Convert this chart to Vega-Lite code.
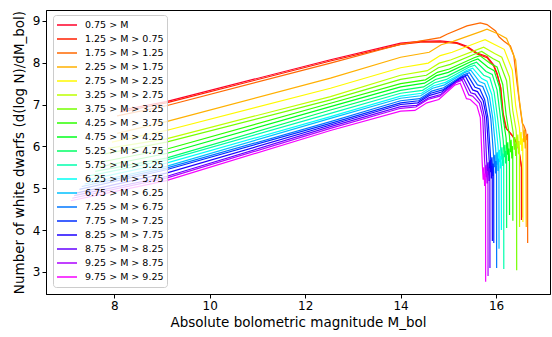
{
"$schema":"https://vega.github.io/schema/vega-lite/v6.json",
"width":504,"height":284,"autosize":"none",
"padding":{"left":46,"top":10,"right":2,"bottom":43},
"config":{"font":"DejaVu Sans","view":{"stroke":"#000","strokeWidth":1},
"axis":{"grid":false,"labelFontSize":12,"titleFontSize":13.5,"titleFontWeight":"normal","tickSize":4,"tickColor":"#000","domainColor":"#000","labelColor":"#000","titleColor":"#000","labelPadding":2}},
"data":{"values":[
{"s":"0.75 > M","x":8.16,"y":6.87},{"s":"0.75 > M","x":9.09,"y":7.07},{"s":"0.75 > M","x":12.53,"y":8.07},{"s":"0.75 > M","x":14.0,"y":8.47},{"s":"0.75 > M","x":14.42,"y":8.51},{"s":"0.75 > M","x":14.83,"y":8.52},{"s":"0.75 > M","x":15.18,"y":8.48},{"s":"0.75 > M","x":15.39,"y":8.39},{"s":"0.75 > M","x":15.6,"y":8.23},{"s":"0.75 > M","x":15.81,"y":8.15},{"s":"0.75 > M","x":15.95,"y":7.95},{"s":"0.75 > M","x":16.02,"y":7.75},{"s":"0.75 > M","x":16.09,"y":7.43},{"s":"0.75 > M","x":16.14,"y":6.8},{"s":"0.75 > M","x":16.2,"y":6.45},{"s":"0.75 > M","x":16.35,"y":6.25},{"s":"0.75 > M","x":16.45,"y":6.05},{"s":"0.75 > M","x":16.5,"y":5.75},{"s":"0.75 > M","x":16.53,"y":5.5},{"s":"0.75 > M","x":16.532,"y":4.24},
{"s":"1.25 > M > 0.75","x":8.12,"y":6.82},{"s":"1.25 > M > 0.75","x":9.09,"y":7.04},{"s":"1.25 > M > 0.75","x":12.53,"y":8.04},{"s":"1.25 > M > 0.75","x":14.0,"y":8.44},{"s":"1.25 > M > 0.75","x":14.42,"y":8.49},{"s":"1.25 > M > 0.75","x":14.83,"y":8.5},{"s":"1.25 > M > 0.75","x":15.18,"y":8.46},{"s":"1.25 > M > 0.75","x":15.39,"y":8.37},{"s":"1.25 > M > 0.75","x":15.6,"y":8.21},{"s":"1.25 > M > 0.75","x":15.81,"y":8.12},{"s":"1.25 > M > 0.75","x":15.95,"y":7.92},{"s":"1.25 > M > 0.75","x":16.02,"y":7.72},{"s":"1.25 > M > 0.75","x":16.1,"y":7.4},{"s":"1.25 > M > 0.75","x":16.15,"y":6.78},{"s":"1.25 > M > 0.75","x":16.22,"y":6.42},{"s":"1.25 > M > 0.75","x":16.36,"y":6.22},{"s":"1.25 > M > 0.75","x":16.46,"y":6.02},{"s":"1.25 > M > 0.75","x":16.51,"y":5.7},{"s":"1.25 > M > 0.75","x":16.54,"y":5.45},{"s":"1.25 > M > 0.75","x":16.542,"y":4.3},
{"s":"1.75 > M > 1.25","x":8.06,"y":6.73},{"s":"1.75 > M > 1.25","x":9.09,"y":6.97},{"s":"1.75 > M > 1.25","x":12.53,"y":7.99},{"s":"1.75 > M > 1.25","x":13.58,"y":8.31},{"s":"1.75 > M > 1.25","x":14.0,"y":8.44},{"s":"1.75 > M > 1.25","x":14.83,"y":8.6},{"s":"1.75 > M > 1.25","x":14.97,"y":8.68},{"s":"1.75 > M > 1.25","x":15.39,"y":8.88},{"s":"1.75 > M > 1.25","x":15.67,"y":8.95},{"s":"1.75 > M > 1.25","x":15.81,"y":8.91},{"s":"1.75 > M > 1.25","x":15.99,"y":8.76},{"s":"1.75 > M > 1.25","x":16.06,"y":8.62},{"s":"1.75 > M > 1.25","x":16.16,"y":8.52},{"s":"1.75 > M > 1.25","x":16.3,"y":8.4},{"s":"1.75 > M > 1.25","x":16.37,"y":8.18},{"s":"1.75 > M > 1.25","x":16.44,"y":7.5},{"s":"1.75 > M > 1.25","x":16.51,"y":6.87},{"s":"1.75 > M > 1.25","x":16.55,"y":6.55},{"s":"1.75 > M > 1.25","x":16.58,"y":6.5},{"s":"1.75 > M > 1.25","x":16.62,"y":6.38},{"s":"1.75 > M > 1.25","x":16.64,"y":6.15},{"s":"1.75 > M > 1.25","x":16.66,"y":6.3},{"s":"1.75 > M > 1.25","x":16.662,"y":3.69},
{"s":"2.25 > M > 1.75","x":8.06,"y":6.31},{"s":"2.25 > M > 1.75","x":9.09,"y":6.59},{"s":"2.25 > M > 1.75","x":12.53,"y":7.63},{"s":"2.25 > M > 1.75","x":14.0,"y":8.13},{"s":"2.25 > M > 1.75","x":14.6,"y":8.25},{"s":"2.25 > M > 1.75","x":14.85,"y":8.43},{"s":"2.25 > M > 1.75","x":15.1,"y":8.51},{"s":"2.25 > M > 1.75","x":15.69,"y":8.75},{"s":"2.25 > M > 1.75","x":15.81,"y":8.8},{"s":"2.25 > M > 1.75","x":16.06,"y":8.68},{"s":"2.25 > M > 1.75","x":16.22,"y":8.58},{"s":"2.25 > M > 1.75","x":16.41,"y":8.06},{"s":"2.25 > M > 1.75","x":16.48,"y":7.18},{"s":"2.25 > M > 1.75","x":16.56,"y":6.5},{"s":"2.25 > M > 1.75","x":16.58,"y":6.1},{"s":"2.25 > M > 1.75","x":16.595,"y":6.4},{"s":"2.25 > M > 1.75","x":16.61,"y":5.95},{"s":"2.25 > M > 1.75","x":16.62,"y":6.25},{"s":"2.25 > M > 1.75","x":16.63,"y":6.05},{"s":"2.25 > M > 1.75","x":16.632,"y":4.07},
{"s":"2.75 > M > 2.25","x":7.95,"y":6.1},{"s":"2.75 > M > 2.25","x":9.09,"y":6.38},{"s":"2.75 > M > 2.25","x":12.53,"y":7.39},{"s":"2.75 > M > 2.25","x":14.0,"y":7.88},{"s":"2.75 > M > 2.25","x":14.58,"y":7.99},{"s":"2.75 > M > 2.25","x":14.83,"y":8.17},{"s":"2.75 > M > 2.25","x":15.08,"y":8.25},{"s":"2.75 > M > 2.25","x":15.65,"y":8.5},{"s":"2.75 > M > 2.25","x":15.77,"y":8.55},{"s":"2.75 > M > 2.25","x":16.01,"y":8.41},{"s":"2.75 > M > 2.25","x":16.17,"y":8.32},{"s":"2.75 > M > 2.25","x":16.34,"y":7.82},{"s":"2.75 > M > 2.25","x":16.41,"y":6.98},{"s":"2.75 > M > 2.25","x":16.49,"y":6.44},{"s":"2.75 > M > 2.25","x":16.51,"y":6.04},{"s":"2.75 > M > 2.25","x":16.525,"y":6.34},{"s":"2.75 > M > 2.25","x":16.54,"y":5.89},{"s":"2.75 > M > 2.25","x":16.55,"y":6.19},{"s":"2.75 > M > 2.25","x":16.56,"y":5.99},{"s":"2.75 > M > 2.25","x":16.562,"y":4.19},
{"s":"3.25 > M > 2.75","x":7.87,"y":5.95},{"s":"3.25 > M > 2.75","x":9.09,"y":6.18},{"s":"3.25 > M > 2.75","x":12.53,"y":7.19},{"s":"3.25 > M > 2.75","x":14.0,"y":7.7},{"s":"3.25 > M > 2.75","x":14.56,"y":7.81},{"s":"3.25 > M > 2.75","x":14.81,"y":7.99},{"s":"3.25 > M > 2.75","x":15.06,"y":8.07},{"s":"3.25 > M > 2.75","x":15.62,"y":8.32},{"s":"3.25 > M > 2.75","x":15.74,"y":8.37},{"s":"3.25 > M > 2.75","x":15.97,"y":8.22},{"s":"3.25 > M > 2.75","x":16.12,"y":8.13},{"s":"3.25 > M > 2.75","x":16.28,"y":7.66},{"s":"3.25 > M > 2.75","x":16.35,"y":6.86},{"s":"3.25 > M > 2.75","x":16.42,"y":6.38},{"s":"3.25 > M > 2.75","x":16.44,"y":5.98},{"s":"3.25 > M > 2.75","x":16.455,"y":6.28},{"s":"3.25 > M > 2.75","x":16.47,"y":5.83},{"s":"3.25 > M > 2.75","x":16.48,"y":6.13},{"s":"3.25 > M > 2.75","x":16.49,"y":5.93},{"s":"3.25 > M > 2.75","x":16.492,"y":4.07},
{"s":"3.75 > M > 3.25","x":7.8,"y":5.82},{"s":"3.75 > M > 3.25","x":9.09,"y":6.1},{"s":"3.75 > M > 3.25","x":12.53,"y":7.11},{"s":"3.75 > M > 3.25","x":14.0,"y":7.6},{"s":"3.75 > M > 3.25","x":14.54,"y":7.7},{"s":"3.75 > M > 3.25","x":14.79,"y":7.88},{"s":"3.75 > M > 3.25","x":15.04,"y":7.96},{"s":"3.75 > M > 3.25","x":15.58,"y":8.22},{"s":"3.75 > M > 3.25","x":15.7,"y":8.27},{"s":"3.75 > M > 3.25","x":15.93,"y":8.1},{"s":"3.75 > M > 3.25","x":16.07,"y":8.02},{"s":"3.75 > M > 3.25","x":16.22,"y":7.57},{"s":"3.75 > M > 3.25","x":16.29,"y":6.81},{"s":"3.75 > M > 3.25","x":16.36,"y":6.32},{"s":"3.75 > M > 3.25","x":16.38,"y":5.92},{"s":"3.75 > M > 3.25","x":16.395,"y":6.22},{"s":"3.75 > M > 3.25","x":16.41,"y":5.77},{"s":"3.75 > M > 3.25","x":16.42,"y":6.07},{"s":"3.75 > M > 3.25","x":16.43,"y":5.87},{"s":"3.75 > M > 3.25","x":16.432,"y":3.04},
{"s":"4.25 > M > 3.75","x":7.7,"y":5.62},{"s":"4.25 > M > 3.75","x":9.09,"y":5.93},{"s":"4.25 > M > 3.75","x":12.53,"y":7.03},{"s":"4.25 > M > 3.75","x":14.0,"y":7.5},{"s":"4.25 > M > 3.75","x":14.52,"y":7.59},{"s":"4.25 > M > 3.75","x":14.77,"y":7.77},{"s":"4.25 > M > 3.75","x":15.02,"y":7.85},{"s":"4.25 > M > 3.75","x":15.54,"y":8.12},{"s":"4.25 > M > 3.75","x":15.66,"y":8.17},{"s":"4.25 > M > 3.75","x":15.88,"y":7.98},{"s":"4.25 > M > 3.75","x":16.02,"y":7.9},{"s":"4.25 > M > 3.75","x":16.14,"y":7.48},{"s":"4.25 > M > 3.75","x":16.21,"y":6.76},{"s":"4.25 > M > 3.75","x":16.28,"y":6.26},{"s":"4.25 > M > 3.75","x":16.3,"y":5.86},{"s":"4.25 > M > 3.75","x":16.315,"y":6.16},{"s":"4.25 > M > 3.75","x":16.33,"y":5.71},{"s":"4.25 > M > 3.75","x":16.34,"y":6.01},{"s":"4.25 > M > 3.75","x":16.35,"y":5.81},{"s":"4.25 > M > 3.75","x":16.352,"y":4.22},
{"s":"4.75 > M > 4.25","x":7.65,"y":5.5},{"s":"4.75 > M > 4.25","x":9.09,"y":5.83},{"s":"4.75 > M > 4.25","x":12.53,"y":6.95},{"s":"4.75 > M > 4.25","x":14.0,"y":7.42},{"s":"4.75 > M > 4.25","x":14.5,"y":7.51},{"s":"4.75 > M > 4.25","x":14.75,"y":7.69},{"s":"4.75 > M > 4.25","x":15.0,"y":7.77},{"s":"4.75 > M > 4.25","x":15.5,"y":8.04},{"s":"4.75 > M > 4.25","x":15.62,"y":8.09},{"s":"4.75 > M > 4.25","x":15.83,"y":7.89},{"s":"4.75 > M > 4.25","x":15.96,"y":7.81},{"s":"4.75 > M > 4.25","x":16.07,"y":7.42},{"s":"4.75 > M > 4.25","x":16.14,"y":6.74},{"s":"4.75 > M > 4.25","x":16.21,"y":6.2},{"s":"4.75 > M > 4.25","x":16.23,"y":5.8},{"s":"4.75 > M > 4.25","x":16.245,"y":6.1},{"s":"4.75 > M > 4.25","x":16.26,"y":5.65},{"s":"4.75 > M > 4.25","x":16.27,"y":5.95},{"s":"4.75 > M > 4.25","x":16.28,"y":5.75},{"s":"4.75 > M > 4.25","x":16.282,"y":4.36},
{"s":"5.25 > M > 4.75","x":7.6,"y":5.4},{"s":"5.25 > M > 4.75","x":9.09,"y":5.72},{"s":"5.25 > M > 4.75","x":12.53,"y":6.87},{"s":"5.25 > M > 4.75","x":14.0,"y":7.34},{"s":"5.25 > M > 4.75","x":14.48,"y":7.42},{"s":"5.25 > M > 4.75","x":14.73,"y":7.6},{"s":"5.25 > M > 4.75","x":14.98,"y":7.68},{"s":"5.25 > M > 4.75","x":15.47,"y":7.96},{"s":"5.25 > M > 4.75","x":15.59,"y":8.01},{"s":"5.25 > M > 4.75","x":15.79,"y":7.79},{"s":"5.25 > M > 4.75","x":15.92,"y":7.72},{"s":"5.25 > M > 4.75","x":16.02,"y":7.35},{"s":"5.25 > M > 4.75","x":16.09,"y":6.71},{"s":"5.25 > M > 4.75","x":16.15,"y":6.14},{"s":"5.25 > M > 4.75","x":16.17,"y":5.74},{"s":"5.25 > M > 4.75","x":16.185,"y":6.04},{"s":"5.25 > M > 4.75","x":16.2,"y":5.59},{"s":"5.25 > M > 4.75","x":16.21,"y":5.89},{"s":"5.25 > M > 4.75","x":16.22,"y":5.69},{"s":"5.25 > M > 4.75","x":16.222,"y":4.05},
{"s":"5.75 > M > 5.25","x":7.5,"y":5.3},{"s":"5.75 > M > 5.25","x":9.09,"y":5.67},{"s":"5.75 > M > 5.25","x":12.53,"y":6.79},{"s":"5.75 > M > 5.25","x":14.0,"y":7.27},{"s":"5.75 > M > 5.25","x":14.46,"y":7.34},{"s":"5.75 > M > 5.25","x":14.71,"y":7.52},{"s":"5.75 > M > 5.25","x":14.96,"y":7.6},{"s":"5.75 > M > 5.25","x":15.43,"y":7.89},{"s":"5.75 > M > 5.25","x":15.55,"y":7.94},{"s":"5.75 > M > 5.25","x":15.74,"y":7.7},{"s":"5.75 > M > 5.25","x":15.87,"y":7.64},{"s":"5.75 > M > 5.25","x":15.96,"y":7.29},{"s":"5.75 > M > 5.25","x":16.03,"y":6.69},{"s":"5.75 > M > 5.25","x":16.09,"y":6.08},{"s":"5.75 > M > 5.25","x":16.11,"y":5.68},{"s":"5.75 > M > 5.25","x":16.125,"y":5.98},{"s":"5.75 > M > 5.25","x":16.14,"y":5.53},{"s":"5.75 > M > 5.25","x":16.15,"y":5.83},{"s":"5.75 > M > 5.25","x":16.16,"y":5.63},{"s":"5.75 > M > 5.25","x":16.162,"y":3.07},
{"s":"6.25 > M > 5.75","x":7.45,"y":5.2},{"s":"6.25 > M > 5.75","x":9.09,"y":5.6},{"s":"6.25 > M > 5.75","x":12.53,"y":6.71},{"s":"6.25 > M > 5.75","x":14.0,"y":7.2},{"s":"6.25 > M > 5.75","x":14.44,"y":7.27},{"s":"6.25 > M > 5.75","x":14.69,"y":7.45},{"s":"6.25 > M > 5.75","x":14.94,"y":7.53},{"s":"6.25 > M > 5.75","x":15.39,"y":7.82},{"s":"6.25 > M > 5.75","x":15.51,"y":7.87},{"s":"6.25 > M > 5.75","x":15.7,"y":7.62},{"s":"6.25 > M > 5.75","x":15.81,"y":7.56},{"s":"6.25 > M > 5.75","x":15.91,"y":7.24},{"s":"6.25 > M > 5.75","x":15.98,"y":6.68},{"s":"6.25 > M > 5.75","x":16.04,"y":6.02},{"s":"6.25 > M > 5.75","x":16.06,"y":5.62},{"s":"6.25 > M > 5.75","x":16.075,"y":5.92},{"s":"6.25 > M > 5.75","x":16.09,"y":5.47},{"s":"6.25 > M > 5.75","x":16.1,"y":5.77},{"s":"6.25 > M > 5.75","x":16.11,"y":5.57},{"s":"6.25 > M > 5.75","x":16.112,"y":4.0},
{"s":"6.75 > M > 6.25","x":7.38,"y":5.1},{"s":"6.75 > M > 6.25","x":9.09,"y":5.52},{"s":"6.75 > M > 6.25","x":12.53,"y":6.67},{"s":"6.75 > M > 6.25","x":14.0,"y":7.15},{"s":"6.75 > M > 6.25","x":14.42,"y":7.21},{"s":"6.75 > M > 6.25","x":14.67,"y":7.39},{"s":"6.75 > M > 6.25","x":14.92,"y":7.47},{"s":"6.75 > M > 6.25","x":15.35,"y":7.77},{"s":"6.75 > M > 6.25","x":15.47,"y":7.82},{"s":"6.75 > M > 6.25","x":15.65,"y":7.55},{"s":"6.75 > M > 6.25","x":15.76,"y":7.5},{"s":"6.75 > M > 6.25","x":15.86,"y":7.2},{"s":"6.75 > M > 6.25","x":15.93,"y":6.68},{"s":"6.75 > M > 6.25","x":15.99,"y":5.96},{"s":"6.75 > M > 6.25","x":16.01,"y":5.56},{"s":"6.75 > M > 6.25","x":16.025,"y":5.86},{"s":"6.75 > M > 6.25","x":16.04,"y":5.41},{"s":"6.75 > M > 6.25","x":16.05,"y":5.71},{"s":"6.75 > M > 6.25","x":16.06,"y":5.51},{"s":"6.75 > M > 6.25","x":16.062,"y":3.55},
{"s":"7.25 > M > 6.75","x":7.32,"y":5.04},{"s":"7.25 > M > 6.75","x":9.09,"y":5.48},{"s":"7.25 > M > 6.75","x":12.53,"y":6.59},{"s":"7.25 > M > 6.75","x":14.0,"y":7.09},{"s":"7.25 > M > 6.75","x":14.4,"y":7.14},{"s":"7.25 > M > 6.75","x":14.65,"y":7.32},{"s":"7.25 > M > 6.75","x":14.9,"y":7.4},{"s":"7.25 > M > 6.75","x":15.32,"y":7.71},{"s":"7.25 > M > 6.75","x":15.44,"y":7.76},{"s":"7.25 > M > 6.75","x":15.61,"y":7.47},{"s":"7.25 > M > 6.75","x":15.72,"y":7.43},{"s":"7.25 > M > 6.75","x":15.82,"y":7.15},{"s":"7.25 > M > 6.75","x":15.89,"y":6.67},{"s":"7.25 > M > 6.75","x":15.94,"y":5.9},{"s":"7.25 > M > 6.75","x":15.96,"y":5.5},{"s":"7.25 > M > 6.75","x":15.975,"y":5.8},{"s":"7.25 > M > 6.75","x":15.99,"y":5.35},{"s":"7.25 > M > 6.75","x":16.0,"y":5.65},{"s":"7.25 > M > 6.75","x":16.01,"y":5.45},{"s":"7.25 > M > 6.75","x":16.012,"y":3.09},
{"s":"7.75 > M > 7.25","x":7.27,"y":4.97},{"s":"7.75 > M > 7.25","x":9.09,"y":5.44},{"s":"7.75 > M > 7.25","x":12.53,"y":6.55},{"s":"7.75 > M > 7.25","x":14.0,"y":7.04},{"s":"7.75 > M > 7.25","x":14.38,"y":7.09},{"s":"7.75 > M > 7.25","x":14.63,"y":7.27},{"s":"7.75 > M > 7.25","x":14.88,"y":7.35},{"s":"7.75 > M > 7.25","x":15.28,"y":7.66},{"s":"7.75 > M > 7.25","x":15.4,"y":7.71},{"s":"7.75 > M > 7.25","x":15.56,"y":7.41},{"s":"7.75 > M > 7.25","x":15.66,"y":7.37},{"s":"7.75 > M > 7.25","x":15.76,"y":7.12},{"s":"7.75 > M > 7.25","x":15.83,"y":6.68},{"s":"7.75 > M > 7.25","x":15.88,"y":5.84},{"s":"7.75 > M > 7.25","x":15.9,"y":5.44},{"s":"7.75 > M > 7.25","x":15.915,"y":5.74},{"s":"7.75 > M > 7.25","x":15.93,"y":5.29},{"s":"7.75 > M > 7.25","x":15.94,"y":5.59},{"s":"7.75 > M > 7.25","x":15.95,"y":5.39},{"s":"7.75 > M > 7.25","x":15.952,"y":3.69},
{"s":"8.25 > M > 7.75","x":7.2,"y":4.88},{"s":"8.25 > M > 7.75","x":9.09,"y":5.36},{"s":"8.25 > M > 7.75","x":12.53,"y":6.51},{"s":"8.25 > M > 7.75","x":14.0,"y":7.0},{"s":"8.25 > M > 7.75","x":14.36,"y":7.04},{"s":"8.25 > M > 7.75","x":14.61,"y":7.22},{"s":"8.25 > M > 7.75","x":14.86,"y":7.3},{"s":"8.25 > M > 7.75","x":15.24,"y":7.62},{"s":"8.25 > M > 7.75","x":15.36,"y":7.67},{"s":"8.25 > M > 7.75","x":15.51,"y":7.35},{"s":"8.25 > M > 7.75","x":15.61,"y":7.31},{"s":"8.25 > M > 7.75","x":15.73,"y":7.09},{"s":"8.25 > M > 7.75","x":15.8,"y":6.69},{"s":"8.25 > M > 7.75","x":15.85,"y":5.78},{"s":"8.25 > M > 7.75","x":15.87,"y":5.38},{"s":"8.25 > M > 7.75","x":15.885,"y":5.68},{"s":"8.25 > M > 7.75","x":15.9,"y":5.23},{"s":"8.25 > M > 7.75","x":15.91,"y":5.53},{"s":"8.25 > M > 7.75","x":15.92,"y":5.33},{"s":"8.25 > M > 7.75","x":15.922,"y":3.74},
{"s":"8.75 > M > 8.25","x":7.16,"y":4.82},{"s":"8.75 > M > 8.25","x":9.09,"y":5.28},{"s":"8.75 > M > 8.25","x":12.53,"y":6.47},{"s":"8.75 > M > 8.25","x":14.0,"y":6.95},{"s":"8.75 > M > 8.25","x":14.34,"y":6.98},{"s":"8.75 > M > 8.25","x":14.59,"y":7.16},{"s":"8.75 > M > 8.25","x":14.84,"y":7.24},{"s":"8.75 > M > 8.25","x":15.2,"y":7.57},{"s":"8.75 > M > 8.25","x":15.32,"y":7.62},{"s":"8.75 > M > 8.25","x":15.47,"y":7.28},{"s":"8.75 > M > 8.25","x":15.56,"y":7.25},{"s":"8.75 > M > 8.25","x":15.69,"y":7.05},{"s":"8.75 > M > 8.25","x":15.76,"y":6.69},{"s":"8.75 > M > 8.25","x":15.8,"y":5.72},{"s":"8.75 > M > 8.25","x":15.82,"y":5.32},{"s":"8.75 > M > 8.25","x":15.835,"y":5.62},{"s":"8.75 > M > 8.25","x":15.85,"y":5.17},{"s":"8.75 > M > 8.25","x":15.86,"y":5.47},{"s":"8.75 > M > 8.25","x":15.87,"y":5.27},{"s":"8.75 > M > 8.25","x":15.872,"y":3.09},
{"s":"9.25 > M > 8.75","x":7.12,"y":4.76},{"s":"9.25 > M > 8.75","x":9.09,"y":5.24},{"s":"9.25 > M > 8.75","x":12.53,"y":6.43},{"s":"9.25 > M > 8.75","x":14.0,"y":6.91},{"s":"9.25 > M > 8.75","x":14.32,"y":6.94},{"s":"9.25 > M > 8.75","x":14.57,"y":7.12},{"s":"9.25 > M > 8.75","x":14.82,"y":7.2},{"s":"9.25 > M > 8.75","x":15.17,"y":7.53},{"s":"9.25 > M > 8.75","x":15.29,"y":7.58},{"s":"9.25 > M > 8.75","x":15.43,"y":7.23},{"s":"9.25 > M > 8.75","x":15.51,"y":7.2},{"s":"9.25 > M > 8.75","x":15.65,"y":7.03},{"s":"9.25 > M > 8.75","x":15.72,"y":6.71},{"s":"9.25 > M > 8.75","x":15.76,"y":5.66},{"s":"9.25 > M > 8.75","x":15.78,"y":5.26},{"s":"9.25 > M > 8.75","x":15.795,"y":5.56},{"s":"9.25 > M > 8.75","x":15.81,"y":5.11},{"s":"9.25 > M > 8.75","x":15.82,"y":5.41},{"s":"9.25 > M > 8.75","x":15.83,"y":5.21},{"s":"9.25 > M > 8.75","x":15.832,"y":2.9},
{"s":"9.75 > M > 9.25","x":7.09,"y":4.7},{"s":"9.75 > M > 9.25","x":9.09,"y":5.18},{"s":"9.75 > M > 9.25","x":12.53,"y":6.38},{"s":"9.75 > M > 9.25","x":14.0,"y":6.84},{"s":"9.75 > M > 9.25","x":14.3,"y":6.86},{"s":"9.75 > M > 9.25","x":14.55,"y":7.04},{"s":"9.75 > M > 9.25","x":14.8,"y":7.12},{"s":"9.75 > M > 9.25","x":15.13,"y":7.46},{"s":"9.75 > M > 9.25","x":15.25,"y":7.51},{"s":"9.75 > M > 9.25","x":15.38,"y":7.14},{"s":"9.75 > M > 9.25","x":15.46,"y":7.12},{"s":"9.75 > M > 9.25","x":15.6,"y":6.97},{"s":"9.75 > M > 9.25","x":15.67,"y":6.69},{"s":"9.75 > M > 9.25","x":15.71,"y":5.6},{"s":"9.75 > M > 9.25","x":15.73,"y":5.2},{"s":"9.75 > M > 9.25","x":15.745,"y":5.5},{"s":"9.75 > M > 9.25","x":15.76,"y":5.05},{"s":"9.75 > M > 9.25","x":15.77,"y":5.35},{"s":"9.75 > M > 9.25","x":15.78,"y":5.15},{"s":"9.75 > M > 9.25","x":15.782,"y":2.76}
]},
"mark":{"type":"line","strokeWidth":1.2,"clip":true},
"encoding":{
"x":{"field":"x","type":"quantitative","scale":{"domain":[6.57,17.13],"nice":false,"zero":false},"axis":{"values":[8,10,12,14,16],"title":"Absolute bolometric magnitude M_bol"}},
"y":{"field":"y","type":"quantitative","scale":{"domain":[2.47,9.26],"nice":false,"zero":false},"axis":{"values":[3,4,5,6,7,8,9],"title":"Number of white dwarfs (d(log N)/dM_bol)","titlePadding":6}},
"color":{"field":"s","type":"nominal","scale":{"domain":["0.75 > M","1.25 > M > 0.75","1.75 > M > 1.25","2.25 > M > 1.75","2.75 > M > 2.25","3.25 > M > 2.75","3.75 > M > 3.25","4.25 > M > 3.75","4.75 > M > 4.25","5.25 > M > 4.75","5.75 > M > 5.25","6.25 > M > 5.75","6.75 > M > 6.25","7.25 > M > 6.75","7.75 > M > 7.25","8.25 > M > 7.75","8.75 > M > 8.25","9.25 > M > 8.75","9.75 > M > 9.25"],"range":["#ff0029","#ff1f00","#ff6800","#ffb000","#fff900","#bdff00","#74ff00","#2cff00","#00ff1d","#00ff65","#00ffad","#00fff5","#00c0ff","#0077ff","#002eff","#1b00ff","#6400ff","#ad00ff","#f600ff"]},
"legend":{"title":null,"orient":"none","legendX":7,"legendY":5,"symbolType":"stroke","symbolSize":400,"clipHeight":14,"symbolStrokeWidth":1.5,"labelFontSize":9.5,"labelColor":"#000","rowPadding":0,"padding":3,"fillColor":"rgba(255,255,255,0.8)","strokeColor":"#cccccc","cornerRadius":3,"labelOffset":7}}
}
}
